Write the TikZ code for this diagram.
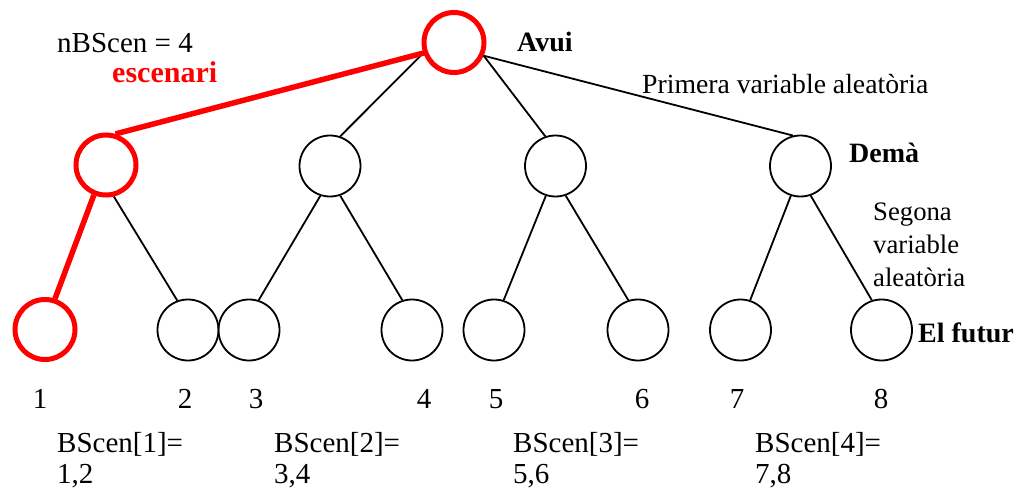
\documentclass[tikz,border=0pt]{standalone}
\usepackage{fontspec}
\setmainfont{Liberation Serif}
\definecolor{scred}{RGB}{255,0,0}
\begin{document}
\begin{tikzpicture}[x=1pt,y=-1pt,
  nd/.style={circle,draw=black,line width=1.8pt,minimum size=61pt,inner sep=0pt},
  rnd/.style={circle,draw=scred,line width=5pt,minimum size=60pt,inner sep=0pt},
  edge/.style={draw=black,line width=1.8pt},
  redge/.style={draw=scred,line width=5.5pt},
  lbl/.style={inner sep=0pt,anchor=base west,font=\fontsize{29}{33}\selectfont},
  slbl/.style={inner sep=0pt,anchor=base west,font=\fontsize{26.7}{33}\selectfont},
  blbl/.style={inner sep=0pt,anchor=base west,font=\fontsize{28}{33}\selectfont\bfseries},
  num/.style={inner sep=0pt,anchor=base,font=\fontsize{29}{33}\selectfont}]
\useasboundingbox (0,0) rectangle (1018,495);
% nodes
\node[rnd] (root) at (454,42.5) {};
\node[rnd] (a1) at (106,165) {};
\node[nd] (a2) at (330,166) {};
\node[nd] (a3) at (555.5,166) {};
\node[nd] (a4) at (800.5,166) {};
\node[rnd] (l1) at (45,329.5) {};
\node[nd] (l2) at (188,330) {};
\node[nd] (l3) at (249,330) {};
\node[nd] (l4) at (412,330) {};
\node[nd] (l5) at (494,330) {};
\node[nd] (l6) at (638,330) {};
\node[nd] (l7) at (740.5,330) {};
\node[nd] (l8) at (881.5,330) {};
% edges
\draw[edge] (root.199) -- (a2.71);
\draw[edge] (root.336) -- (a3.109);
\draw[edge] (root.336) -- (a4.104);
\draw[redge] (root.199) -- (a1.73);
\draw[edge] (a1.284) -- (l2.110);
\draw[redge] (a1.248) -- (l1.72);
\draw[edge] (a2.252) -- (l3.72);
\draw[edge] (a2.289) -- (l4.108);
\draw[edge] (a3.252) -- (l5.72);
\draw[edge] (a3.289) -- (l6.108);
\draw[edge] (a4.252) -- (l7.72);
\draw[edge] (a4.289) -- (l8.108);
% labels
\node[lbl] (nbs) at (57,53) {nBScen = 4};
\node[inner sep=0pt,anchor=base west,font=\fontsize{30}{33}\selectfont\bfseries,text=scred] (esc) at (112,82) {escenari};
\node[blbl] (avui) at (517,52) {Avui};
\node[inner sep=0pt,anchor=base west,font=\fontsize{27.7}{33}\selectfont] (prim) at (642,93) {Primera variable aleatòria};
\node[blbl] (dema) at (849,162) {Demà};
\node[slbl] (seg1) at (873,220) {Segona};
\node[slbl] (seg2) at (873,253) {variable};
\node[slbl] (seg3) at (873,286) {aleatòria};
\node[blbl] (fut) at (918,342) {El futur};
\node[num] (n1) at (40,408) {1};
\node[num] (n2) at (185,408) {2};
\node[num] (n3) at (256,408) {3};
\node[num] (n4) at (424,408) {4};
\node[num] (n5) at (496,408) {5};
\node[num] (n6) at (642,408) {6};
\node[num] (n7) at (737,408) {7};
\node[num] (n8) at (881,408) {8};
\node[lbl] (b1) at (57,452) {BScen[1]=};
\node[lbl] (b1v) at (57,483) {1,2};
\node[lbl] (b2) at (274,452) {BScen[2]=};
\node[lbl] (b2v) at (274,483) {3,4};
\node[lbl] (b3) at (513,452) {BScen[3]=};
\node[lbl] (b3v) at (513,483) {5,6};
\node[lbl] (b4) at (755,452) {BScen[4]=};
\node[lbl] (b4v) at (755,483) {7,8};
\end{tikzpicture}
\end{document}
